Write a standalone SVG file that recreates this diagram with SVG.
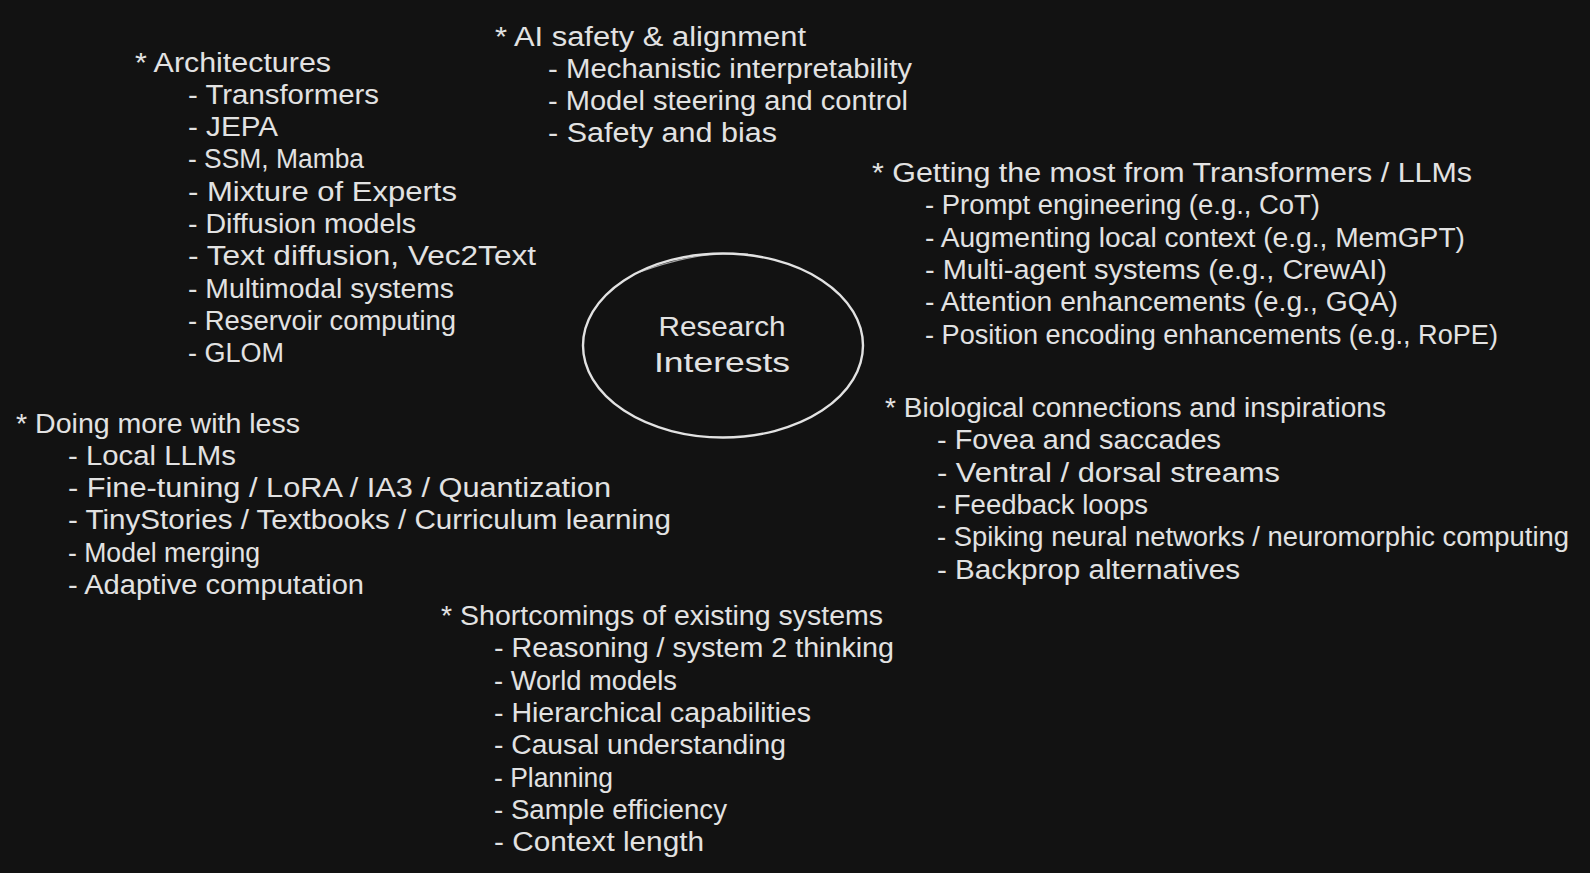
<svg xmlns="http://www.w3.org/2000/svg" width="1590" height="873" viewBox="0 0 1590 873">
<style>
.bg{fill:#121212}
.t{font-family:"Liberation Sans","Open Sans",sans-serif;font-size:27px;fill:#e2e2e2}
.c{text-anchor:middle}
.ring{fill:none;stroke:#e2e2e2;stroke-width:2.4}
.ring2{fill:none;stroke:#e2e2e2;stroke-width:1.2;opacity:0.7}
</style>
<rect class="bg" x="0" y="0" width="1590" height="873"/>
<g id="center">
<ellipse class="ring" cx="723" cy="345.5" rx="140" ry="92"/>
<path class="ring2" d="M640 272 Q700 250 748 254"/>
<text class="t c" x="722" y="336" textLength="127" lengthAdjust="spacingAndGlyphs">Research</text>
<text class="t c" x="722" y="372" textLength="136" lengthAdjust="spacingAndGlyphs">Interests</text>
</g>
<g id="ai-safety" lengthAdjust="spacingAndGlyphs">
<text class="t" x="495" y="45.5" textLength="311" lengthAdjust="spacingAndGlyphs">* AI safety &amp; alignment</text>
<text class="t" x="548" y="77.8" textLength="364" lengthAdjust="spacingAndGlyphs">- Mechanistic interpretability</text>
<text class="t" x="548" y="110.1" textLength="360" lengthAdjust="spacingAndGlyphs">- Model steering and control</text>
<text class="t" x="548" y="142.4" textLength="229" lengthAdjust="spacingAndGlyphs">- Safety and bias</text>
</g>
<g id="architectures">
<text class="t" x="135" y="71.5" textLength="196" lengthAdjust="spacingAndGlyphs">* Architectures</text>
<text class="t" x="188" y="103.8" textLength="191" lengthAdjust="spacingAndGlyphs">- Transformers</text>
<text class="t" x="188" y="136.1" textLength="90" lengthAdjust="spacingAndGlyphs">- JEPA</text>
<text class="t" x="188" y="168.4" textLength="176" lengthAdjust="spacingAndGlyphs">- SSM, Mamba</text>
<text class="t" x="188" y="200.7" textLength="269" lengthAdjust="spacingAndGlyphs">- Mixture of Experts</text>
<text class="t" x="188" y="233" textLength="228" lengthAdjust="spacingAndGlyphs">- Diffusion models</text>
<text class="t" x="188" y="265.3" textLength="348" lengthAdjust="spacingAndGlyphs">- Text diffusion, Vec2Text</text>
<text class="t" x="188" y="297.6" textLength="266" lengthAdjust="spacingAndGlyphs">- Multimodal systems</text>
<text class="t" x="188" y="329.9" textLength="268" lengthAdjust="spacingAndGlyphs">- Reservoir computing</text>
<text class="t" x="188" y="362.2" textLength="96" lengthAdjust="spacingAndGlyphs">- GLOM</text>
</g>
<g id="transformers-llms">
<text class="t" x="872" y="182" textLength="600" lengthAdjust="spacingAndGlyphs">* Getting the most from Transformers / LLMs</text>
<text class="t" x="925" y="214.3" textLength="395" lengthAdjust="spacingAndGlyphs">- Prompt engineering (e.g., CoT)</text>
<text class="t" x="925" y="246.6" textLength="540" lengthAdjust="spacingAndGlyphs">- Augmenting local context (e.g., MemGPT)</text>
<text class="t" x="925" y="278.9" textLength="462" lengthAdjust="spacingAndGlyphs">- Multi-agent systems (e.g., CrewAI)</text>
<text class="t" x="925" y="311.2" textLength="473" lengthAdjust="spacingAndGlyphs">- Attention enhancements (e.g., GQA)</text>
<text class="t" x="925" y="343.5" textLength="573" lengthAdjust="spacingAndGlyphs">- Position encoding enhancements (e.g., RoPE)</text>
</g>
<g id="biological">
<text class="t" x="885" y="417" textLength="501" lengthAdjust="spacingAndGlyphs">* Biological connections and inspirations</text>
<text class="t" x="937" y="449.3" textLength="284" lengthAdjust="spacingAndGlyphs">- Fovea and saccades</text>
<text class="t" x="937" y="481.6" textLength="343" lengthAdjust="spacingAndGlyphs">- Ventral / dorsal streams</text>
<text class="t" x="937" y="513.9" textLength="211" lengthAdjust="spacingAndGlyphs">- Feedback loops</text>
<text class="t" x="937" y="546.2" textLength="632" lengthAdjust="spacingAndGlyphs">- Spiking neural networks / neuromorphic computing</text>
<text class="t" x="937" y="578.5" textLength="303" lengthAdjust="spacingAndGlyphs">- Backprop alternatives</text>
</g>
<g id="doing-more">
<text class="t" x="16" y="432.5" textLength="284" lengthAdjust="spacingAndGlyphs">* Doing more with less</text>
<text class="t" x="68" y="464.8" textLength="168" lengthAdjust="spacingAndGlyphs">- Local LLMs</text>
<text class="t" x="68" y="497.1" textLength="543" lengthAdjust="spacingAndGlyphs">- Fine-tuning / LoRA / IA3 / Quantization</text>
<text class="t" x="68" y="529.4" textLength="603" lengthAdjust="spacingAndGlyphs">- TinyStories / Textbooks / Curriculum learning</text>
<text class="t" x="68" y="561.7" textLength="192" lengthAdjust="spacingAndGlyphs">- Model merging</text>
<text class="t" x="68" y="594" textLength="296" lengthAdjust="spacingAndGlyphs">- Adaptive computation</text>
</g>
<g id="shortcomings">
<text class="t" x="441" y="625" textLength="442" lengthAdjust="spacingAndGlyphs">* Shortcomings of existing systems</text>
<text class="t" x="494" y="657.3" textLength="400" lengthAdjust="spacingAndGlyphs">- Reasoning / system 2 thinking</text>
<text class="t" x="494" y="689.6" textLength="183" lengthAdjust="spacingAndGlyphs">- World models</text>
<text class="t" x="494" y="721.9" textLength="317" lengthAdjust="spacingAndGlyphs">- Hierarchical capabilities</text>
<text class="t" x="494" y="754.2" textLength="292" lengthAdjust="spacingAndGlyphs">- Causal understanding</text>
<text class="t" x="494" y="786.5" textLength="119" lengthAdjust="spacingAndGlyphs">- Planning</text>
<text class="t" x="494" y="818.8" textLength="233" lengthAdjust="spacingAndGlyphs">- Sample efficiency</text>
<text class="t" x="494" y="851.1" textLength="210" lengthAdjust="spacingAndGlyphs">- Context length</text>
</g>
<g id="connectors"></g>
</svg>
